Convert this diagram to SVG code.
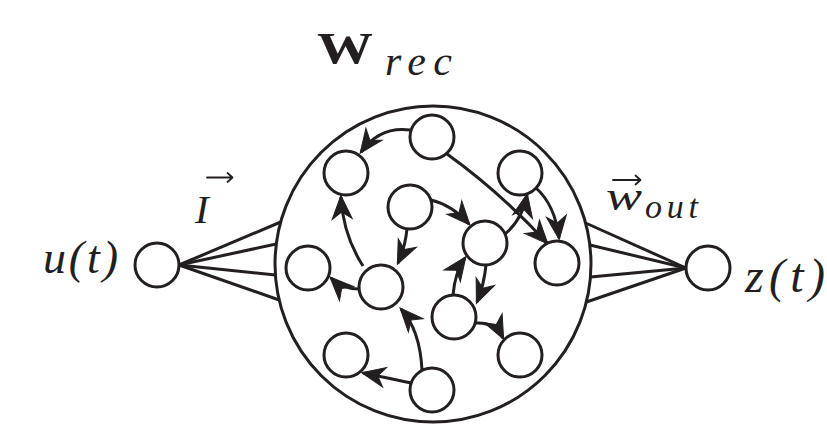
<svg xmlns="http://www.w3.org/2000/svg" width="827" height="430" viewBox="0 0 827 430">
<style>
.n{fill:#fff;stroke:#231f20;stroke-width:3}
.big{fill:none;stroke:#231f20;stroke-width:3}
.e{fill:none;stroke:#231f20;stroke-width:3}
.f{fill:none;stroke:#231f20;stroke-width:3}
.t{font-family:"Liberation Serif","Times New Roman",serif;fill:#231f20}
.i{font-style:italic;font-weight:normal}
.acc{fill:none;stroke:#231f20;stroke-width:1.8;stroke-linecap:round;stroke-linejoin:round}
</style>
<defs>
<marker id="ah" markerUnits="userSpaceOnUse" markerWidth="40" markerHeight="40" viewBox="-30 -20 40 40" refX="0" refY="0" orient="auto" overflow="visible">
<path d="M1.5,0 L-22,-10 L-15,0 L-22,10 Z" fill="#231f20" stroke="#231f20" stroke-width="1" stroke-linejoin="miter"/>
</marker>
</defs>
<rect width="827" height="430" fill="#fff"/>
<g id="reservoir">
<circle class="big" cx="433" cy="264" r="158"/>
</g>
<g id="fan-in" class="f">
<line x1="179" y1="265" x2="280.7" y2="222"/>
<line x1="179" y1="265" x2="276.3" y2="244"/>
<line x1="179" y1="265" x2="275.4" y2="275"/>
<line x1="179" y1="265" x2="279.2" y2="300"/>
</g>
<g id="fan-out" class="f">
<line x1="686" y1="268" x2="585.6" y2="223"/>
<line x1="686" y1="268" x2="589.9" y2="245"/>
<line x1="686" y1="268" x2="590.5" y2="277"/>
<line x1="686" y1="268" x2="586.4" y2="302"/>
</g>
<g id="connectors" class="e">
<path d="M410,130 Q380,126 361,152" marker-end="url(#ah)"/>
<path d="M363,266 Q343,235 341,197" marker-end="url(#ah)"/>
<path d="M407,229 Q405,248 398,263" marker-end="url(#ah)"/>
<path d="M431,200 Q452,205 469,224" marker-end="url(#ah)"/>
<path d="M447,154 Q500,192 547,243" marker-end="url(#ah)"/>
<path d="M505,234 Q522,220 527,195" marker-end="url(#ah)"/>
<path d="M536,188 Q555,205 559,238" marker-end="url(#ah)"/>
<path d="M453,295 Q455,272 465,258" marker-end="url(#ah)"/>
<path d="M486,265 Q484,285 477,302" marker-end="url(#ah)"/>
<path d="M476,323 Q495,322 503,338" marker-end="url(#ah)"/>
<path d="M359,289 Q342,289 331,278" marker-end="url(#ah)"/>
<path d="M422,370 Q420,330 401,309" marker-end="url(#ah)"/>
<path d="M411,383 Q388,378 363,373" marker-end="url(#ah)"/>
</g>
<g id="u"><circle class="n" cx="157" cy="265" r="22"/></g>
<g id="z"><circle class="n" cx="708" cy="268" r="22"/></g>
<g id="nA"><circle class="n" cx="346" cy="173" r="22"/></g>
<g id="nB"><circle class="n" cx="432" cy="137" r="22"/></g>
<g id="nC"><circle class="n" cx="410" cy="207" r="22"/></g>
<g id="nD"><circle class="n" cx="520" cy="173" r="22"/></g>
<g id="nE"><circle class="n" cx="381" cy="287" r="22"/></g>
<g id="nF"><circle class="n" cx="485" cy="243" r="22"/></g>
<g id="nG"><circle class="n" cx="557" cy="263" r="22"/></g>
<g id="nH"><circle class="n" cx="454" cy="317" r="22"/></g>
<g id="nI"><circle class="n" cx="308" cy="268" r="22"/></g>
<g id="nJ"><circle class="n" cx="432" cy="390" r="22"/></g>
<g id="nK"><circle class="n" cx="346" cy="355" r="22"/></g>
<g id="nL"><circle class="n" cx="520" cy="355" r="22"/></g>
<g id="labels">
<text class="t" x="317" y="63" font-size="44" font-weight="bold" textLength="56" lengthAdjust="spacingAndGlyphs">W</text>
<text class="t i" x="385" y="75" font-size="42" textLength="67" lengthAdjust="spacing">rec</text>
<text class="t i" x="43" y="273" font-size="46" textLength="75" lengthAdjust="spacing">u(t)</text>
<text class="t i" x="745" y="292" font-size="48" textLength="80" lengthAdjust="spacing">z(t)</text>
<text class="t i" x="195" y="223" font-size="41">I</text>
<text class="t i" x="606" y="210" font-size="42" textLength="36" lengthAdjust="spacingAndGlyphs">w</text>
<text class="t i" x="645" y="218" font-size="34" textLength="53" lengthAdjust="spacing">out</text>
<path class="acc" d="M207,177.5 H232 M227.5,173 L232.5,177.5 L227.5,182"/>
<path class="acc" d="M613,180 H640 M635.5,175.5 L640.5,180 L635.5,184.5"/>
</g>
</svg>
